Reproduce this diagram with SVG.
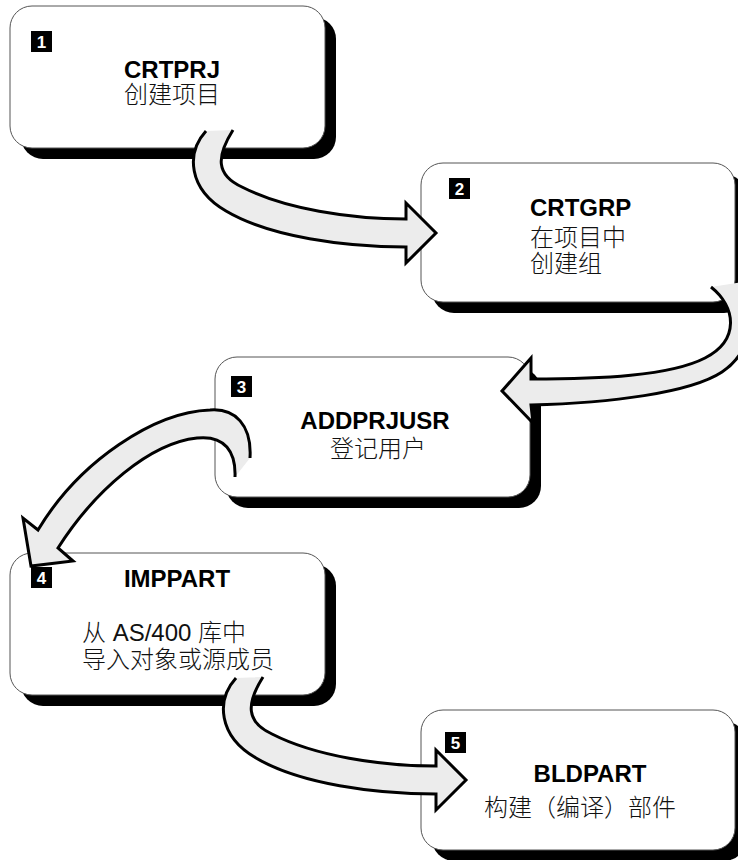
<svg xmlns="http://www.w3.org/2000/svg" width="738" height="860" viewBox="0 0 738 860">
<style>
.shadow{fill:#000}
.box{fill:#fff;stroke:#555;stroke-width:1}
.badge{fill:#000}
.num{fill:#fff;font-family:"Liberation Sans",Arial,sans-serif;font-weight:bold;font-size:17px;text-anchor:middle}
.title{fill:#000;font-family:"Liberation Sans",Arial,sans-serif;font-weight:bold;font-size:24px}
.cjk{fill:#111;font-family:"Liberation Sans","Noto Sans CJK SC",sans-serif;font-weight:300;font-size:24px}
.mid{text-anchor:middle}
.arrow{fill:#ececec;stroke:#000;stroke-width:3;stroke-linejoin:miter}
</style>
<rect width="738" height="860" fill="#fff"/>
<g id="node1">
<rect class="shadow" x="21" y="17" width="315" height="142" rx="22"/>
<rect class="box" x="10" y="6" width="315" height="142" rx="22"/>
<rect class="badge" x="31" y="31" width="21" height="21"/>
<text class="num" x="41.5" y="48">1</text>
<text class="title mid" x="172" y="78">CRTPRJ</text>
<text class="cjk mid" x="172" y="103">创建项目</text>
</g>
<g id="node2">
<rect class="shadow" x="432" y="174" width="314" height="139" rx="22"/>
<rect class="box" x="421" y="163" width="314" height="139" rx="22"/>
<rect class="badge" x="449" y="178" width="21" height="21"/>
<text class="num" x="459.5" y="195">2</text>
<text class="title" x="530" y="216">CRTGRP</text>
<text class="cjk" x="530" y="246">在项目中</text>
<text class="cjk" x="530" y="272">创建组</text>
</g>
<g id="node3">
<rect class="shadow" x="226" y="368" width="315" height="140" rx="22"/>
<rect class="box" x="215" y="357" width="315" height="140" rx="22"/>
<rect class="badge" x="231" y="376" width="21" height="21"/>
<text class="num" x="241.5" y="393">3</text>
<text class="title mid" x="375" y="429">ADDPRJUSR</text>
<text class="cjk mid" x="378" y="457">登记用户</text>
</g>
<g id="node4">
<rect class="shadow" x="21" y="564" width="315" height="142" rx="22"/>
<rect class="box" x="10" y="553" width="315" height="142" rx="22"/>
<rect class="badge" x="31" y="567" width="21" height="21"/>
<text class="num" x="41.5" y="584">4</text>
<text class="title mid" x="177" y="587">IMPPART</text>
<text class="cjk" x="82" y="641">从 AS/400 库中</text>
<text class="cjk" x="82" y="668">导入对象或源成员</text>
</g>
<g id="node5">
<rect class="shadow" x="432" y="721" width="314" height="140" rx="22"/>
<rect class="box" x="421" y="710" width="314" height="140" rx="22"/>
<rect class="badge" x="445" y="732" width="21" height="21"/>
<text class="num" x="455.5" y="749">5</text>
<text class="title mid" x="590" y="782">BLDPART</text>
<text class="cjk mid" x="580" y="816">构建（编译）部件</text>
</g>
<g id="connectors">
<path class="arrow" d="M 233,130 C 216,157 216,175 242,187 C 285,209 350,219 406,219 L 406,203 L 436,233 L 406,263 L 406,247 C 345,247 270,237 226,211 C 188,189 186,153 206,131"/>
<path class="arrow" d="M 711,287 C 736,307 740,340 705,358 C 670,376 600,379 531,379 L 531,358 L 502,391 L 533,423 L 531,405 C 610,403 690,393 722,372 C 751,353 760,310 742,282"/>
<path class="arrow" d="M 250,458 C 252,425 235,408 210,410 C 155,412 80,460 38,530 L 23,518 L 31,566 L 73,561 L 58,548 C 95,490 150,443 197,438 C 225,435 236,452 235,477"/>
<path class="arrow" d="M 263,677 C 246,704 246,722 272,734 C 315,756 380,766 436,766 L 436,750 L 466,780 L 436,810 L 436,794 C 375,794 300,784 256,758 C 218,736 216,700 236,678"/>
</g>
</svg>
